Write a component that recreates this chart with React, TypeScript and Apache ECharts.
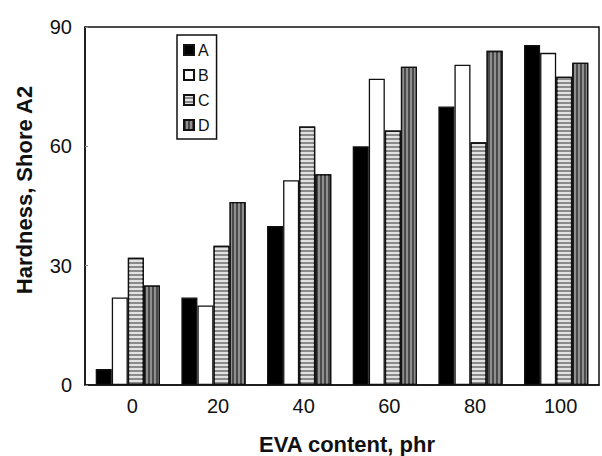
import React, { useEffect, useRef } from "react";
import * as echarts from "echarts";

const categories = ["0", "20", "40", "60", "80", "100"];
const seriesA = [4, 22, 40, 60, 70, 85.5];
const seriesB = [22, 20, 51.5, 77, 80.5, 83.5];
const seriesC = [32, 35, 65, 64, 61, 77.5];
const seriesD = [25, 46, 53, 80, 84, 81];
const yTicks = [0, 30, 60, 90];

export default function App() {
  const ref = useRef<HTMLDivElement>(null);
  useEffect(() => {
    if (!ref.current) return;
    const chart = echarts.init(ref.current, undefined, { renderer: "svg" });
    const font = "Liberation Sans, Arial, sans-serif";
    const border = { borderColor: "#111", borderWidth: 1.3 };
    const hLines = {
      symbol: "rect",
      symbolSize: 1,
      dashArrayX: [1, 0],
      dashArrayY: [1.2, 1.8],
      color: "rgba(255,255,255,0.75)",
      rotation: 0,
    };
    const vLines = {
      symbol: "rect",
      symbolSize: 1,
      dashArrayX: [1, 0],
      dashArrayY: [1.2, 1.8],
      color: "rgba(200,200,200,0.55)",
      rotation: Math.PI / 2,
    };
    chart.setOption({
      animation: false,
      backgroundColor: "#fff",
      grid: {
        left: 85,
        right: 3,
        top: 27,
        bottom: 71,
        show: true,
        borderColor: "#111",
        borderWidth: 1.5,
      },
      legend: {
        orient: "vertical",
        left: 177,
        top: 35,
        itemWidth: 10,
        itemHeight: 10,
        itemGap: 9,
        padding: [7, 7, 6, 6],
        borderColor: "#111",
        borderWidth: 1.5,
        icon: "rect",
        textStyle: { fontFamily: font, fontSize: 16, color: "#111", padding: [0, 0, 0, -1] },
        data: ["A", "B", "C", "D"],
      },
      xAxis: {
        type: "category",
        data: categories,
        axisLine: { lineStyle: { color: "#111", width: 1.5 } },
        axisTick: { inside: true, length: 3, lineStyle: { color: "#888" } },
        axisLabel: {
          fontFamily: font,
          fontSize: 20,
          color: "#111",
          margin: 11,
          padding: [0, 0, 0, 9],
        },
      },
      yAxis: {
        type: "value",
        min: 0,
        max: 90,
        interval: 30,
        axisLine: { show: true, lineStyle: { color: "#111", width: 1.5 } },
        axisTick: { show: true, inside: true, length: 3, lineStyle: { color: "#888" } },
        splitLine: { show: false },
        axisLabel: {
          fontFamily: font,
          fontSize: 20,
          color: "#111",
          margin: 13,
          padding: [0, 0, 10, 0],
          formatter: (v: number) => (yTicks.includes(v) ? String(v) : ""),
        },
      },
      graphic: [
        {
          type: "text",
          x: 24,
          y: 190,
          rotation: Math.PI / 2,
          style: {
            text: "Hardness, Shore A2",
            font: "bold 22px Liberation Sans, Arial, sans-serif",
            fill: "#111",
            textAlign: "center",
            textVerticalAlign: "middle",
          },
        },
        {
          type: "text",
          x: 347,
          y: 444,
          style: {
            text: "EVA content, phr",
            font: "bold 22px Liberation Sans, Arial, sans-serif",
            fill: "#111",
            textAlign: "center",
            textVerticalAlign: "middle",
          },
        },
      ],
      series: [
        {
          name: "A",
          type: "bar",
          data: seriesA,
          barCategoryGap: "25%",
          barGap: "0%",
          itemStyle: { color: "#000", ...border },
        },
        {
          name: "B",
          type: "bar",
          data: seriesB,
          barGap: "0%",
          itemStyle: { color: "#fff", ...border },
        },
        {
          name: "C",
          type: "bar",
          data: seriesC,
          barGap: "0%",
          itemStyle: { color: "#8a8a8a", decal: hLines, ...border },
        },
        {
          name: "D",
          type: "bar",
          data: seriesD,
          barGap: "0%",
          itemStyle: { color: "#4a4a4a", decal: vLines, ...border },
        },
      ],
    });
    return () => chart.dispose();
  }, []);
  return (
    <div
      ref={ref}
      style={{ position: "fixed", left: 0, top: 0, width: 602, height: 456, overflow: "hidden" }}
    />
  );
}
